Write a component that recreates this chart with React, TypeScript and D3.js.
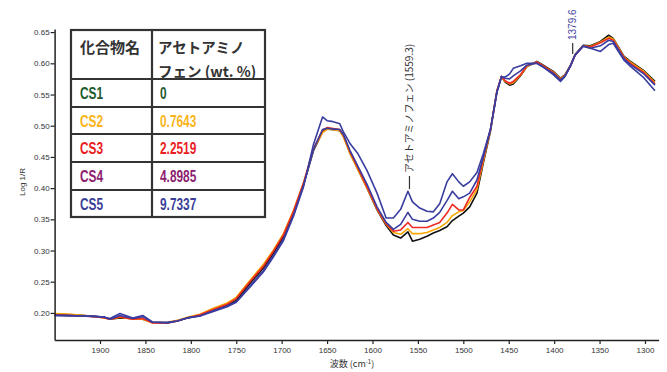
import React, { useEffect, useRef } from "react";
import * as d3 from "d3";

// wavenumbers (cm-1), shared by every sample
const waveNumbers = [
  1950, 1935, 1920, 1905, 1895, 1889, 1878, 1864, 1853, 1842, 1826, 1815, 1804, 1790, 1776, 1760,
  1750, 1735, 1720, 1709, 1698, 1687, 1676, 1665, 1655, 1650, 1645, 1636, 1632, 1625, 1616, 1606,
  1595, 1585, 1577, 1569, 1561, 1556, 1548, 1540, 1533, 1526, 1518, 1512, 1505, 1500, 1493, 1485,
  1478, 1470, 1463, 1458, 1454, 1449, 1445, 1437, 1430, 1419, 1412, 1401, 1393, 1388, 1382, 1377,
  1368, 1360, 1349, 1340, 1335, 1323, 1316, 1302, 1289,
];

const cs1 = [
  0.198, 0.197, 0.196, 0.194, 0.193, 0.19, 0.192, 0.191, 0.19, 0.185, 0.184, 0.187, 0.192, 0.196, 0.204, 0.212,
  0.22, 0.247, 0.272, 0.296, 0.322, 0.36, 0.405, 0.46, 0.49, 0.495, 0.494, 0.492, 0.483, 0.457, 0.43, 0.4,
  0.365, 0.34, 0.325, 0.32, 0.33, 0.315, 0.318, 0.323, 0.328, 0.332, 0.338, 0.348, 0.355, 0.36, 0.37, 0.392,
  0.44, 0.492, 0.555, 0.579, 0.57, 0.565, 0.567, 0.58, 0.595, 0.603, 0.597, 0.587, 0.576, 0.582, 0.597, 0.614,
  0.629, 0.628, 0.635, 0.645, 0.64, 0.611, 0.603, 0.589, 0.571,
];

const cs2 = [
  0.199, 0.198, 0.196, 0.194, 0.192, 0.19, 0.193, 0.19, 0.19, 0.184, 0.185, 0.188, 0.193, 0.198, 0.207, 0.216,
  0.225, 0.252, 0.278, 0.301, 0.327, 0.364, 0.408, 0.462, 0.489, 0.494, 0.494, 0.492, 0.482, 0.456, 0.429, 0.4,
  0.366, 0.342, 0.329, 0.326, 0.335, 0.327, 0.327, 0.329, 0.333, 0.337, 0.345, 0.356, 0.362, 0.364, 0.378, 0.398,
  0.443, 0.494, 0.556, 0.579, 0.571, 0.567, 0.569, 0.581, 0.595, 0.602, 0.596, 0.586, 0.575, 0.581, 0.596, 0.613,
  0.628, 0.627, 0.634, 0.642, 0.639, 0.61, 0.602, 0.588, 0.569,
];

const cs3 = [
  0.197, 0.196, 0.195, 0.194, 0.192, 0.19, 0.194, 0.19, 0.191, 0.184, 0.184, 0.187, 0.192, 0.197, 0.205, 0.214,
  0.223, 0.25, 0.275, 0.299, 0.325, 0.363, 0.408, 0.463, 0.493, 0.497, 0.496, 0.494, 0.485, 0.459, 0.432, 0.402,
  0.367, 0.343, 0.331, 0.333, 0.345, 0.337, 0.337, 0.337, 0.341, 0.345, 0.36, 0.374, 0.365, 0.365, 0.385, 0.403,
  0.447, 0.495, 0.556, 0.579, 0.572, 0.568, 0.571, 0.582, 0.596, 0.602, 0.596, 0.585, 0.574, 0.58, 0.596, 0.613,
  0.628, 0.626, 0.633, 0.64, 0.637, 0.609, 0.6, 0.586, 0.567,
];

const cs4 = [
  0.196, 0.196, 0.195, 0.194, 0.193, 0.19, 0.196, 0.191, 0.194, 0.185, 0.184, 0.187, 0.192, 0.195, 0.203, 0.211,
  0.218, 0.243, 0.268, 0.292, 0.318, 0.357, 0.404, 0.462, 0.494, 0.496, 0.495, 0.494, 0.486, 0.461, 0.435, 0.406,
  0.37, 0.345, 0.334, 0.342, 0.361, 0.35, 0.347, 0.347, 0.352, 0.361, 0.38, 0.395, 0.383, 0.386, 0.392, 0.413,
  0.45, 0.495, 0.555, 0.579, 0.576, 0.575, 0.58, 0.588, 0.597, 0.6, 0.594, 0.584, 0.573, 0.58, 0.596, 0.613,
  0.627, 0.624, 0.628, 0.637, 0.635, 0.607, 0.598, 0.584, 0.565,
];

const cs5 = [
  0.196, 0.195, 0.195, 0.195, 0.193, 0.191, 0.199, 0.192, 0.196, 0.185, 0.185, 0.187, 0.192, 0.195, 0.202, 0.21,
  0.217, 0.241, 0.266, 0.29, 0.316, 0.355, 0.402, 0.47, 0.514, 0.508, 0.507, 0.503, 0.49, 0.472, 0.455, 0.428,
  0.392, 0.352, 0.352, 0.366, 0.395, 0.378, 0.368, 0.363, 0.362, 0.375, 0.41, 0.423, 0.41, 0.403, 0.41, 0.425,
  0.455, 0.495, 0.553, 0.578, 0.578, 0.583, 0.592, 0.596, 0.6, 0.6, 0.594, 0.582, 0.571, 0.579, 0.596, 0.613,
  0.628, 0.624, 0.619, 0.63, 0.632, 0.605, 0.595, 0.578, 0.556,
];

const sampleNames = ["CS1", "CS2", "CS3", "CS4", "CS5"];
const sampleValues = ["0", "0.7643", "2.2519", "4.8985", "9.7337"];
const sampleSeries = [cs1, cs2, cs3, cs4, cs5];
const legendColors = ["#1d5a2e", "#f9b51a", "#ec1c24", "#8c1d6e", "#3b3f99"];
const lineColors = ["#111111", "#f7a600", "#ee2a24", "#3a3da0", "#3a3da0"];

const yTicks = [0.2, 0.25, 0.3, 0.35, 0.4, 0.45, 0.5, 0.55, 0.6, 0.65];
const xTicks = [1900, 1850, 1800, 1750, 1700, 1650, 1600, 1550, 1500, 1450, 1400, 1350, 1300];

const App: React.FC = () => {
  const svgRef = useRef<SVGSVGElement | null>(null);

  useEffect(() => {
    document.body.style.margin = "0";
    if (!svgRef.current) return;
    const svg = d3.select(svgRef.current);
    svg.selectAll("*").remove();

    const width = 667;
    const height = 372;
    const axisFont = "'Liberation Sans', Arial, sans-serif";
    const jpFont = "'Noto Sans CJK JP', sans-serif";

    const x = d3.scaleLinear().domain([1950, 1285]).range([54.6, 658.6]);
    const y = d3.scaleLinear().domain([0.1566, 0.655]).range([340, 29]);

    svg.attr("width", width).attr("height", height);

    // curves
    const line = d3
      .line<[number, number]>()
      .x((d) => x(d[0]))
      .y((d) => y(d[1]));

    sampleSeries.forEach((vals, i) => {
      const pts = waveNumbers.map((w, j) => [w, vals[j]] as [number, number]);
      svg
        .append("path")
        .datum(pts)
        .attr("d", line)
        .attr("fill", "none")
        .attr("stroke", lineColors[i])
        .attr("stroke-width", 1.6)
        .attr("stroke-linejoin", "round");
    });

    // axes
    const gx = svg
      .append("g")
      .attr("transform", `translate(0,${y(0.1566)})`)
      .call(d3.axisBottom(x).tickValues(xTicks).tickSize(4).tickSizeOuter(0).tickPadding(3).tickFormat(d3.format("d")));
    const gy = svg
      .append("g")
      .attr("transform", `translate(${x(1950)},0)`)
      .call(d3.axisLeft(y).tickValues(yTicks).tickSize(4).tickSizeOuter(0).tickPadding(1).tickFormat(d3.format(".2f")));
    [gx, gy].forEach((g) => {
      g.select(".domain").attr("stroke", "#222").attr("stroke-width", 1.5);
      g.selectAll(".tick line").attr("stroke", "#222").attr("stroke-width", 1.2);
      g.selectAll("text").attr("fill", "#333").style("font-family", axisFont).attr("font-size", 8);
    });

    svg
      .append("text")
      .attr("transform", `translate(25,182) rotate(-90)`)
      .attr("text-anchor", "middle")
      .style("font-family", axisFont)
      .attr("font-size", 8)
      .attr("fill", "#333")
      .text("Log 1/R");

    const xl = svg
      .append("text")
      .attr("x", 352)
      .attr("y", 367)
      .attr("text-anchor", "middle")
      .style("font-family", jpFont)
      .attr("font-size", 9)
      .attr("fill", "#333");
    xl.append("tspan").text("波数 (cm");
    xl.append("tspan").attr("font-size", 6).attr("dy", -3).text("-1");
    xl.append("tspan").attr("dy", 3).text(")");

    // peak annotations
    const notes = [
      { wave: 1559.3, top: 176, bottom: 189, text: "アセトアミノフェン (1559.3)", color: "#333", font: jpFont },
      { wave: 1379.6, top: 43, bottom: 54, text: "1379.6", color: "#4a4a9e", font: axisFont },
    ];
    notes.forEach((n) => {
      svg
        .append("line")
        .attr("x1", x(n.wave))
        .attr("x2", x(n.wave))
        .attr("y1", n.top)
        .attr("y2", n.bottom)
        .attr("stroke", "#333")
        .attr("stroke-width", 1.2);
      svg
        .append("text")
        .attr("transform", `translate(${x(n.wave)},${n.top - 3}) rotate(-90)`)
        .attr("dy", "0.35em")
        .style("font-family", n.font)
        .attr("font-size", 10)
        .attr("fill", n.color)
        .text(n.text);
    });

    // table
    const tLeft = 71;
    const tRight = 265;
    const tMid = 152;
    const rowEdges = [30, 79, 107, 134, 162, 190, 217];
    const table = svg.append("g");
    table
      .append("rect")
      .attr("x", tLeft)
      .attr("y", rowEdges[0])
      .attr("width", tRight - tLeft)
      .attr("height", rowEdges[rowEdges.length - 1] - rowEdges[0])
      .attr("fill", "#fff")
      .attr("stroke", "#333")
      .attr("stroke-width", 2.2);
    rowEdges.slice(1, -1).forEach((ry) => {
      table.append("line").attr("x1", tLeft).attr("x2", tRight).attr("y1", ry).attr("y2", ry)
        .attr("stroke", "#333").attr("stroke-width", 2.2);
    });
    table.append("line").attr("x1", tMid).attr("x2", tMid).attr("y1", rowEdges[0]).attr("y2", rowEdges[6])
      .attr("stroke", "#333").attr("stroke-width", 2.2);

    const header = table.append("g").style("font-family", jpFont).attr("font-weight", 700).attr("fill", "#333");
    header.append("text").attr("x", 80).attr("y", 53).attr("font-size", 15).text("化合物名");
    header.append("text").attr("x", 158).attr("y", 53).attr("font-size", 14.5).text("アセトアミノ");
    header.append("text").attr("x", 158).attr("y", 77).attr("font-size", 14.5).text("フェン (wt. %)");

    // condensed bold look for the sample rows
    sampleNames.forEach((name, i) => {
      const base = (rowEdges[i + 1] + rowEdges[i + 2]) / 2 + 6;
      const cell = table
        .append("g")
        .style("font-family", "'Liberation Sans', Arial, sans-serif")
        .attr("font-weight", 700)
        .attr("font-size", 16.5)
        .attr("fill", legendColors[i]);
      cell.append("text").attr("transform", `translate(80,${base}) scale(0.72,1)`).text(name);
      cell.append("text").attr("transform", `translate(160,${base}) scale(0.72,1)`).text(sampleValues[i]);
    });
  }, []);

  return <svg ref={svgRef} style={{ display: "block" }}></svg>;
};

export default App;
